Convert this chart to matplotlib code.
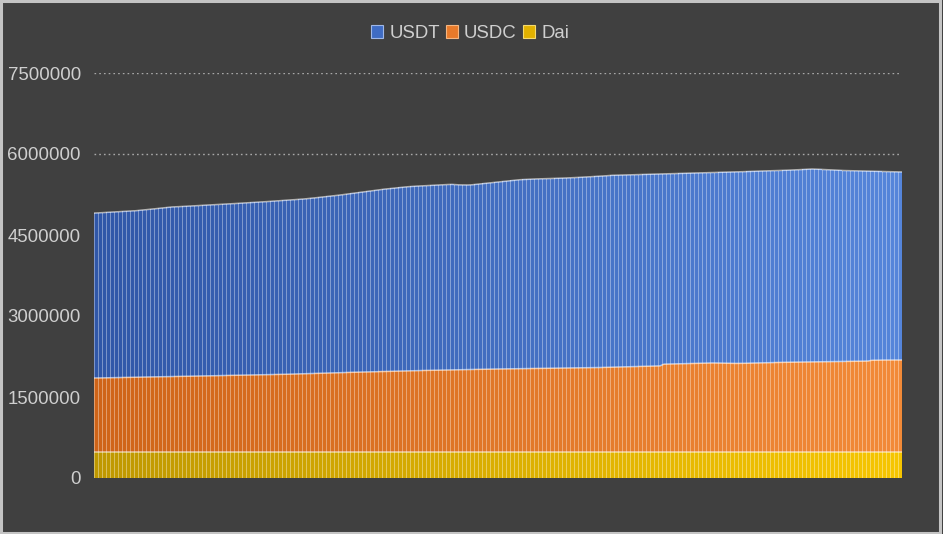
import matplotlib
matplotlib.use("Agg")
import matplotlib.pyplot as plt
import numpy as np
from matplotlib.patches import Rectangle
from matplotlib.colors import to_rgb

# ---- data (in thousands) ----
series_names = ["USDT", "USDC", "Dai"]

# top of the whole stack (USDT + USDC + Dai), thousands
total_top = [
    4907, 4912, 4916, 4920, 4924, 4928, 4932, 4936, 4940, 4944,
    4950, 4957, 4964, 4972, 4980, 4988, 4996, 5004, 5012, 5019,
    5022, 5026, 5030, 5034, 5038, 5042, 5046, 5050, 5053, 5056,
    5060, 5064, 5068, 5073, 5078, 5083, 5088, 5093, 5098, 5102,
    5106, 5110, 5115, 5120, 5125, 5130, 5135, 5140, 5144, 5148,
    5154, 5160, 5167, 5174, 5182, 5190, 5198, 5206, 5214, 5222,
    5230, 5240, 5250, 5260, 5270, 5280, 5290, 5300, 5310, 5320,
    5330, 5340, 5348, 5356, 5364, 5372, 5380, 5388, 5394, 5400,
    5404, 5408, 5412, 5416, 5420, 5424, 5428, 5432, 5435, 5437,
    5432, 5428, 5426, 5426, 5430, 5438, 5446, 5454, 5462, 5470,
    5478, 5486, 5494, 5502, 5510, 5518, 5524, 5528, 5532, 5535,
    5538, 5540, 5542, 5544, 5546, 5548, 5551, 5554, 5557, 5560,
    5564, 5568, 5572, 5576, 5580, 5584, 5588, 5594, 5600, 5605,
    5607, 5609, 5611, 5613, 5615, 5617, 5619, 5621, 5623, 5625,
    5627, 5629, 5631, 5633, 5635, 5637, 5639, 5641, 5643, 5645,
    5647, 5649, 5651, 5653, 5655, 5657, 5659, 5661, 5663, 5665,
    5668, 5670, 5673, 5676, 5679, 5682, 5684, 5686, 5688, 5690,
    5692, 5694, 5697, 5700, 5703, 5706, 5710, 5714, 5718, 5722,
    5720, 5716, 5712, 5708, 5704, 5700, 5697, 5694, 5692, 5690,
    5688, 5686, 5684, 5682, 5680, 5678, 5676, 5674, 5672, 5670, 5668, 5667,
]

# top of USDC (USDC + Dai), thousands
usdc_top = [
    1852, 1853, 1855, 1856, 1858, 1859, 1860, 1862, 1863, 1865,
    1866, 1868, 1869, 1870, 1872, 1873, 1875, 1876, 1877, 1879,
    1880, 1882, 1883, 1884, 1886, 1887, 1889, 1890, 1892, 1893,
    1895, 1896, 1898, 1899, 1901, 1902, 1904, 1905, 1907, 1908,
    1910, 1911, 1913, 1914, 1916, 1917, 1919, 1920, 1922, 1924,
    1926, 1928, 1930, 1932, 1935, 1937, 1939, 1941, 1944, 1946,
    1948, 1950, 1953, 1955, 1957, 1959, 1962, 1964, 1966, 1968,
    1970, 1973, 1975, 1977, 1979, 1981, 1982, 1984, 1985, 1987,
    1988, 1990, 1991, 1993, 1994, 1996, 1997, 1999, 2000, 2002,
    2003, 2005, 2006, 2008, 2009, 2011, 2012, 2014, 2015, 2017,
    2018, 2019, 2020, 2021, 2022, 2023, 2024, 2026, 2027, 2028,
    2029, 2030, 2031, 2032, 2033, 2034, 2035, 2036, 2037, 2038,
    2040, 2041, 2042, 2043, 2044, 2045, 2046, 2048, 2050, 2052,
    2054, 2056, 2058, 2060, 2062, 2064, 2066, 2068, 2070, 2072,
    2074, 2076, 2108, 2110, 2112, 2114, 2116, 2118, 2120, 2122,
    2124, 2126, 2128, 2130, 2130, 2130, 2128, 2126, 2124, 2122,
    2122, 2122, 2124, 2126, 2128, 2130, 2132, 2134, 2136, 2138,
    2140, 2141, 2142, 2143, 2144, 2145, 2146, 2147, 2148, 2149,
    2150, 2151, 2152, 2153, 2154, 2155, 2156, 2157, 2158, 2159,
    2160, 2162, 2164, 2166, 2180, 2182, 2183, 2184, 2185, 2185, 2185, 2185,
]

# Dai, thousands (flat)
dai = [485] * len(total_top)

yticks = [0, 1500000, 3000000, 4500000, 6000000, 7500000]
ytick_labels = ["0", "1500000", "3000000", "4500000", "6000000", "7500000"]

# ---- derived stack values (in units) ----
total_top_v = np.array(total_top) * 1000.0
usdc_top_v = np.array(usdc_top) * 1000.0
dai_v = np.array(dai) * 1000.0
usdc_v = usdc_top_v - dai_v
usdt_v = total_top_v - usdc_top_v
n = len(total_top)
x = np.arange(n)

# ---- style ----
BG = "#404040"
TXT = "#cfcfcf"
plt.rcParams["font.family"] = ["Liberation Sans", "DejaVu Sans"]

def grad(c0, c1, n):
    a, b = np.array(to_rgb(c0)), np.array(to_rgb(c1))
    t = np.linspace(0, 1, n)[:, None]
    return a + (b - a) * t

def lighten(c, f=0.36):
    return c + (1 - c) * f

blue = grad("#3057a8", "#5585da", n)
orange = grad("#cf6418", "#f28a38", n)
yellow = grad("#bf9800", "#f6c500", n)

W, H = 943, 534
fig = plt.figure(figsize=(W / 100, H / 100), dpi=100, facecolor=BG)
ax = fig.add_axes([94 / W, (H - 478) / H, 4 * n / W, 405 / H])
ax.set_facecolor(BG)

stacks = [(dai_v, np.zeros(n), yellow), (usdc_v, dai_v, orange), (usdt_v, usdc_top_v, blue)]
for vals, bot, col in stacks:
    # light stripe layer (full width), then the main colour (3 of 4 px)
    ax.bar(x, vals, bottom=bot, width=1.0, color=lighten(col), linewidth=0, zorder=3)
    ax.bar(x + 0.125, vals, bottom=bot, width=0.75, color=col, linewidth=0, zorder=3.1)

# bright boundary lines along stack tops
for top in (dai_v, usdc_top_v, total_top_v):
    ax.plot(np.r_[-0.5, x, n - 0.5], np.r_[top[0], top, top[-1]],
            color=(1, 1, 1, 0.6), linewidth=1.1, zorder=4, solid_capstyle="butt")

ax.set_xlim(-0.5, n - 0.5)
ax.set_ylim(0, 7500000)
ax.set_yticks(yticks)
ax.set_yticklabels(ytick_labels)
ax.set_xticks([])
ax.tick_params(axis="y", length=0, pad=9.5, labelsize=13.4, labelcolor=TXT)
for s in ax.spines.values():
    s.set_visible(False)
ax.yaxis.grid(True, color="#a8a8a8", linestyle=(0, (1.2, 2.2)), linewidth=1.0, zorder=0)
ax.set_axisbelow(True)

# legend
handles = [
    Rectangle((0, 0), 1, 1, facecolor="#3f6cc4", edgecolor="#9fb8e8", linewidth=0.8),
    Rectangle((0, 0), 1, 1, facecolor="#e87a2a", edgecolor="#f6b680", linewidth=0.8),
    Rectangle((0, 0), 1, 1, facecolor="#e2b200", edgecolor="#f5da70", linewidth=0.8),
]
leg = fig.legend(handles, series_names, loc="center", bbox_to_anchor=(470 / W, 1 - 33.5 / H),
                 ncol=3, frameon=False, fontsize=13.4, handlelength=0.65, handleheight=0.65,
                 handletextpad=0.33, columnspacing=0.33, labelcolor=TXT)

# figure border
fig.patches.append(Rectangle((0.001, 0.002), 0.996, 0.996, transform=fig.transFigure,
                             fill=False, edgecolor="#c4c4c4", linewidth=2.2))

fig.savefig("out.png", dpi=100, facecolor=BG)
